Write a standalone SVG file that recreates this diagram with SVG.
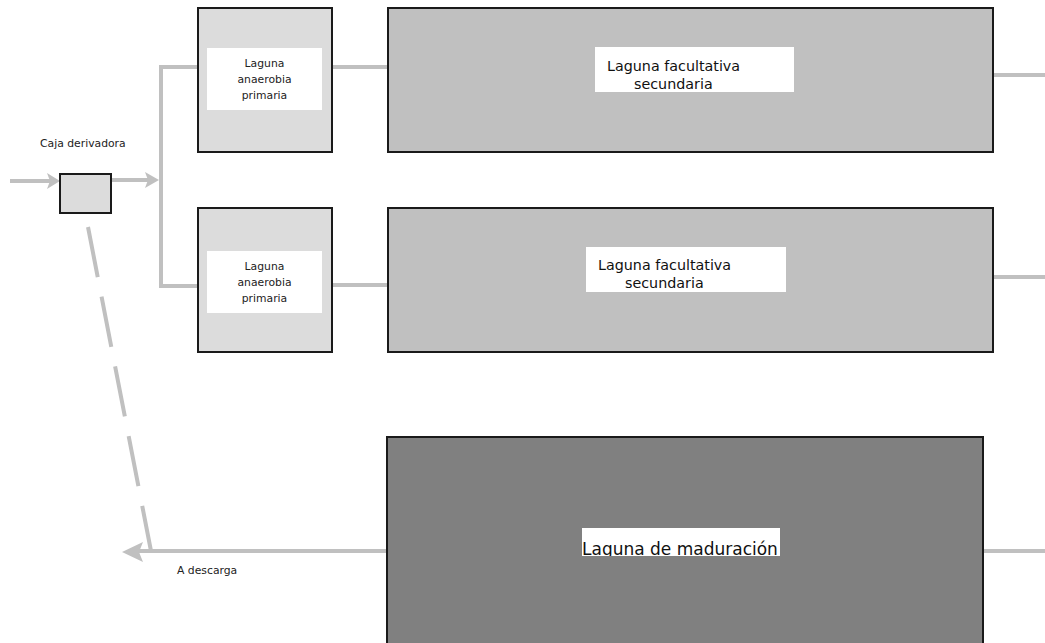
<svg xmlns="http://www.w3.org/2000/svg" width="1045" height="643" viewBox="0 0 1045 643">
  <style>
    .pipe { stroke: #c0c0c0; stroke-width: 4; fill: none; }
    .head { fill: #c0c0c0; stroke: none; }
    .small { fill: #dcdcdc; stroke: #1a1a1a; stroke-width: 2; }
    .large { fill: #c0c0c0; stroke: #1a1a1a; stroke-width: 2; }
    .dark { fill: #808080; stroke: #1a1a1a; stroke-width: 2; }
    .label-bg { fill: #ffffff; }
    .t-small { font-family: "DejaVu Sans", "Liberation Sans", sans-serif; font-size: 10.8px; fill: #222; }
    .t-large { font-family: "DejaVu Sans", "Liberation Sans", sans-serif; font-size: 14.3px; fill: #111; }
    .t-big { font-family: "DejaVu Sans", "Liberation Sans", sans-serif; font-size: 17px; fill: #111; }
  </style>

  <rect width="1045" height="643" fill="#ffffff"/>

  <!-- connectors -->
  <g id="connectors">
    <line class="pipe" x1="10" y1="181" x2="50" y2="181"/>
    <path class="head" d="M47,173 L60,181 L47,189 L50,181 Z"/>
    <line class="pipe" x1="112" y1="180" x2="148" y2="180"/>
    <path class="head" d="M145,172 L159,180 L145,188 L148,180 Z"/>
    <polyline class="pipe" points="198,67 161,67 161,286 198,286"/>
    <line class="pipe" x1="333" y1="67" x2="388" y2="67"/>
    <line class="pipe" x1="333" y1="285" x2="388" y2="285"/>
    <line class="pipe" x1="994" y1="75" x2="1045" y2="75"/>
    <line class="pipe" x1="994" y1="277" x2="1045" y2="277"/>
    <line class="pipe" x1="984" y1="551" x2="1045" y2="551"/>
    <line class="pipe" x1="386" y1="551" x2="136" y2="551"/>
    <path class="head" d="M122,552 L143,542 L139,552 L143,562 Z"/>
    <line class="pipe" x1="88" y1="227" x2="151" y2="551" stroke-width="5.5" stroke-dasharray="51,20"/>
  </g>

  <!-- splitter box -->
  <g id="caja-derivadora">
    <rect class="small" x="60" y="174" width="51" height="39"/>
    <text class="t-small" x="40" y="147">Caja derivadora</text>
  </g>

  <!-- anaerobic lagoon 1 -->
  <g id="anaerobia-1">
    <rect class="small" x="198" y="8" width="134" height="144"/>
    <rect class="label-bg" x="207" y="48" width="115" height="62"/>
    <text class="t-small" x="264.5" y="67" text-anchor="middle">Laguna</text>
    <text class="t-small" x="264.5" y="83" text-anchor="middle">anaerobia</text>
    <text class="t-small" x="264.5" y="99" text-anchor="middle">primaria</text>
  </g>

  <!-- anaerobic lagoon 2 -->
  <g id="anaerobia-2">
    <rect class="small" x="198" y="208" width="134" height="144"/>
    <rect class="label-bg" x="207" y="251" width="115" height="62"/>
    <text class="t-small" x="264.5" y="270" text-anchor="middle">Laguna</text>
    <text class="t-small" x="264.5" y="286" text-anchor="middle">anaerobia</text>
    <text class="t-small" x="264.5" y="302" text-anchor="middle">primaria</text>
  </g>

  <!-- facultative lagoon 1 -->
  <g id="facultativa-1">
    <rect class="large" x="388" y="8" width="605" height="144"/>
    <rect class="label-bg" x="595" y="47" width="199" height="45"/>
    <text class="t-large" x="607" y="71">Laguna facultativa</text>
    <text class="t-large" x="634" y="89">secundaria</text>
  </g>

  <!-- facultative lagoon 2 -->
  <g id="facultativa-2">
    <rect class="large" x="388" y="208" width="605" height="144"/>
    <rect class="label-bg" x="586" y="247" width="200" height="45"/>
    <text class="t-large" x="598" y="270">Laguna facultativa</text>
    <text class="t-large" x="625" y="288">secundaria</text>
  </g>

  <!-- maturation lagoon -->
  <g id="maduracion">
    <rect class="dark" x="387" y="437" width="596" height="220"/>
    <svg x="582" y="528" width="198" height="28" overflow="hidden">
      <rect class="label-bg" x="0" y="0" width="198" height="28"/>
      <text class="t-big" x="0" y="27">Laguna de maduración</text>
    </svg>
  </g>

  <!-- outlet label -->
  <g id="descarga">
    <text class="t-small" x="177" y="574">A descarga</text>
  </g>
</svg>
